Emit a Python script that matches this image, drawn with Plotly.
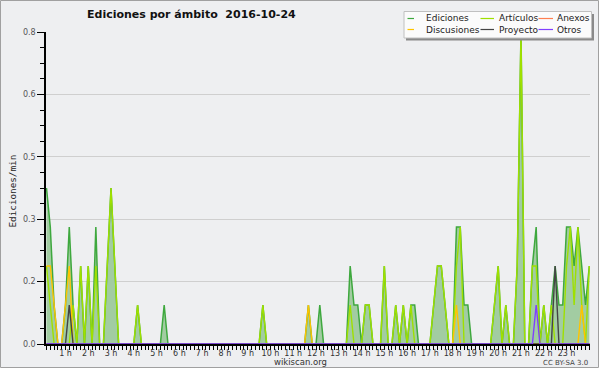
import plotly.graph_objects as go

# ---- data: 10-minute bins over the day (values in edits per minute) ----
bin_hours = [(i + 1) / 6 for i in range(144)]

ediciones = [
    0.4, 0.3, 0.1, 0, 0, 0.1, 0.3, 0.1, 0, 0.2, 0, 0.2,
    0, 0.3, 0, 0, 0.2, 0.4, 0.2, 0, 0, 0, 0, 0,
    0.1, 0, 0, 0, 0, 0, 0, 0.1, 0, 0, 0, 0,
    0, 0, 0, 0, 0, 0, 0, 0, 0, 0, 0, 0,
    0, 0, 0, 0, 0, 0, 0, 0, 0, 0.1, 0, 0,
    0, 0, 0, 0, 0, 0, 0, 0, 0, 0.1, 0, 0,
    0.1, 0, 0, 0, 0, 0, 0, 0, 0.2, 0.1, 0.1, 0,
    0.1, 0.1, 0, 0, 0, 0.2, 0, 0, 0.1, 0, 0.1, 0,
    0.1, 0.1, 0, 0, 0, 0, 0.1, 0.2, 0.2, 0.1, 0, 0,
    0.3, 0.3, 0.1, 0.1, 0, 0, 0, 0, 0, 0, 0.1, 0.2,
    0, 0.1, 0, 0, 0.2, 0.8, 0, 0, 0.2, 0.3, 0, 0.1,
    0, 0.1, 0.2, 0.1, 0.1, 0.3, 0.3, 0.2, 0.3, 0.2, 0.1, 0.2,
]

articulos = [
    0.2, 0.1, 0, 0, 0, 0, 0, 0.1, 0, 0.2, 0, 0.2,
    0, 0.2, 0, 0, 0.2, 0.4, 0.2, 0, 0, 0, 0, 0,
    0.1, 0, 0, 0, 0, 0, 0, 0, 0, 0, 0, 0,
    0, 0, 0, 0, 0, 0, 0, 0, 0, 0, 0, 0,
    0, 0, 0, 0, 0, 0, 0, 0, 0, 0.1, 0, 0,
    0, 0, 0, 0, 0, 0, 0, 0, 0, 0, 0, 0,
    0, 0, 0, 0, 0, 0, 0, 0, 0.1, 0, 0, 0,
    0.1, 0.1, 0, 0, 0, 0.2, 0, 0, 0.1, 0, 0.1, 0,
    0.1, 0, 0, 0, 0, 0, 0.1, 0.2, 0.2, 0.1, 0, 0,
    0.2, 0.3, 0, 0, 0, 0, 0, 0, 0, 0, 0.1, 0.2,
    0, 0.1, 0, 0, 0.2, 0.8, 0, 0, 0.2, 0.2, 0, 0.1,
    0, 0.1, 0, 0, 0, 0.2, 0.3, 0.1, 0.3, 0.1, 0, 0.2,
]

discusiones = [
    0.2, 0.2, 0.1, 0, 0, 0.1, 0.2, 0, 0, 0, 0, 0,
    0, 0, 0, 0, 0, 0, 0, 0, 0, 0, 0, 0,
    0, 0, 0, 0, 0, 0, 0, 0, 0, 0, 0, 0,
    0, 0, 0, 0, 0, 0, 0, 0, 0, 0, 0, 0,
    0, 0, 0, 0, 0, 0, 0, 0, 0, 0, 0, 0,
    0, 0, 0, 0, 0, 0, 0, 0, 0, 0.1, 0, 0,
    0, 0, 0, 0, 0, 0, 0, 0, 0, 0, 0, 0,
    0, 0, 0, 0, 0, 0, 0, 0, 0, 0, 0, 0,
    0, 0, 0, 0, 0, 0, 0, 0, 0, 0, 0, 0,
    0.1, 0, 0, 0, 0, 0, 0, 0, 0, 0, 0, 0,
    0, 0, 0, 0, 0, 0, 0, 0, 0, 0, 0, 0,
    0, 0, 0, 0, 0, 0, 0, 0, 0, 0.1, 0, 0,
]

proyecto = [0] * 6 + [0.1] + [0] * 127 + [0.2] + [0] * 9
otros = [0] * 129 + [0.1] + [0] * 14
anexos = [0] * 144

hour_ticks = list(range(1, 24))
hour_labels = [f"{h} h" for h in hour_ticks]
y_ticks = [0, 0.16, 0.32, 0.48, 0.64, 0.8]
y_labels = ["0.0", "0.2", "0.3", "0.5", "0.6", "0.8"]

series = [
    ("Artículos", articulos, "#9fe000"),
    ("Anexos", anexos, "#ff7f50"),
    ("Discusiones", discusiones, "#ffc400"),
    ("Proyecto", proyecto, "#444444"),
    ("Otros", otros, "#8040ff"),
]
legend_items = [
    ("Ediciones", "#3ea83e"), ("Artículos", "#9fe000"), ("Anexos", "#ff7f50"),
    ("Discusiones", "#ffc400"), ("Proyecto", "#444444"), ("Otros", "#8040ff"),
]

# ---- layout geometry (pixels) ----
W, H = 600, 370
ML, MR, MT, MB = 46, 10, 32, 26
PW, PH = W - ML - MR, H - MT - MB


def px(x):
    return (x - ML) / PW


def py(y):
    return (H - MB - y) / PH


BG = "#eeeff1"

fig = go.Figure()
fig.add_trace(go.Scatter(
    x=bin_hours, y=ediciones, mode="lines", name="Ediciones",
    line=dict(color="#3ea83e", width=1.5), fill="tozeroy",
    fillcolor="#a2cca2", showlegend=False,
))
for name, vals, col in series:
    fig.add_trace(go.Scatter(
        x=bin_hours, y=vals, mode="lines", name=name,
        line=dict(color=col, width=1.4), showlegend=False,
    ))

shapes = []
annotations = []
# frame around the chart
shapes.append(dict(type="rect", xref="paper", yref="paper",
                   x0=px(0.5), x1=px(598.5), y0=py(0.5), y1=py(367.5),
                   line=dict(color="#a0a0a0", width=1), fillcolor=BG, layer="below"))
# legend box with shadow
shapes.append(dict(type="rect", xref="paper", yref="paper",
                   x0=px(406), x1=px(594), y0=py(14), y1=py(40.5),
                   line=dict(width=0), fillcolor="#8a8a8a", layer="above"))
shapes.append(dict(type="rect", xref="paper", yref="paper",
                   x0=px(404), x1=px(591.5), y0=py(11.5), y1=py(38),
                   line=dict(color="#c0c0c0", width=1), fillcolor="#fbfbfb", layer="above"))
col_line = [(407.5, 414), (480.5, 494), (538.5, 553)]
col_text = [424, 496.5, 555]
rows = [18.5, 29.5]
for k, (lab, col) in enumerate(legend_items):
    r, c = divmod(k, 3)
    shapes.append(dict(type="line", xref="paper", yref="paper",
                       x0=px(col_line[c][0]), x1=px(col_line[c][1]),
                       y0=py(rows[r]), y1=py(rows[r]),
                       line=dict(color=col, width=1.2), layer="above"))
    annotations.append(dict(xref="paper", yref="paper", x=px(col_text[c]), y=py(rows[r]),
                            text=lab, showarrow=False, xanchor="left", yanchor="middle",
                            font=dict(family="DejaVu Sans", size=9, color="#222")))

annotations.append(dict(xref="paper", yref="paper", x=px(85), y=py(14.5),
                        text="Ediciones por ámbito \u00a02016-10-24", showarrow=False,
                        xanchor="left", yanchor="middle",
                        font=dict(family="DejaVu Sans", size=11, color="#111", weight="bold")))
annotations.append(dict(xref="paper", yref="paper", x=px(12), y=py(191.5),
                        text="Ediciones/min", textangle=-90, showarrow=False,
                        xanchor="center", yanchor="middle",
                        font=dict(family="DejaVu Sans Mono", size=9.3, color="#222")))
annotations.append(dict(xref="paper", yref="paper", x=px(300.5), y=py(362),
                        text="wikiscan.org", showarrow=False,
                        xanchor="center", yanchor="middle",
                        font=dict(family="DejaVu Sans", size=8.5, color="#333")))
annotations.append(dict(xref="paper", yref="paper", x=px(590), y=py(362.5),
                        text="CC BY-SA 3.0", showarrow=False,
                        xanchor="right", yanchor="middle",
                        font=dict(family="DejaVu Sans", size=7, color="#444")))

fig.update_layout(
    width=W, height=H, margin=dict(l=ML, r=MR, t=MT, b=MB),
    paper_bgcolor="white", plot_bgcolor=BG,
    shapes=shapes, annotations=annotations, showlegend=False,
    xaxis=dict(range=[0.145, 24.03], tickvals=hour_ticks, ticktext=hour_labels,
               ticks="outside", ticklen=4, tickwidth=1, tickcolor="black",
               showline=True, linecolor="black", linewidth=1.5, showgrid=False,
               zeroline=False, layer="above traces", ticklabelstandoff=-3,
               tickfont=dict(family="DejaVu Sans", size=8, color="#333"),
               minor=dict(dtick=1 / 6, tick0=0, ticks="outside", ticklen=4,
                          tickcolor="black", showgrid=False)),
    yaxis=dict(range=[0, 0.8], tickvals=y_ticks, ticktext=y_labels,
               ticks="outside", ticklen=7, tickwidth=1, tickcolor="black",
               showline=True, linecolor="black", linewidth=1.5,
               showgrid=True, gridcolor="#cfcfcf", gridwidth=1,
               zeroline=False, layer="above traces",
               tickfont=dict(family="DejaVu Sans", size=8, color="#555"),
               minor=dict(dtick=0.04, tick0=0, ticks="outside", ticklen=4,
                          tickcolor="black", showgrid=False)),
)

fig.write_html(
    "out.html",
    config={"displayModeBar": False},
    post_script="document.body.style.margin='0';document.body.style.overflow='hidden';",
)
